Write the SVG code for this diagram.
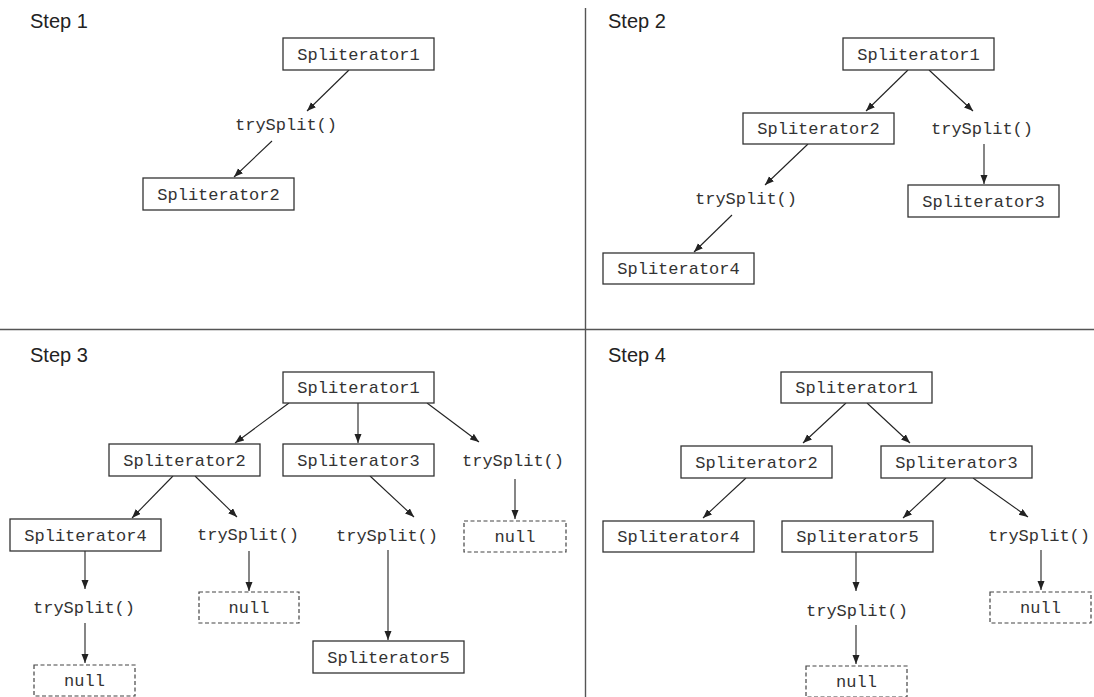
<svg xmlns="http://www.w3.org/2000/svg" width="1094" height="697" viewBox="0 0 1094 697">
<style>
.bg{fill:#fff}
.div{stroke:#555;stroke-width:1.4;fill:none}
.box{fill:#fff;stroke:#333;stroke-width:1.3}
.nul{fill:#fff;stroke:#444;stroke-width:1.2;stroke-dasharray:4 2.5}
.t{font-family:"Liberation Mono","Courier New",monospace;font-size:17px;fill:#333;text-anchor:middle}
.step{font-family:"Liberation Sans",Arial,sans-serif;font-size:20px;fill:#222}
.c line{stroke:#222;stroke-width:1.1;marker-end:url(#ah)}
</style>
<defs>
<marker id="ah" markerUnits="userSpaceOnUse" markerWidth="10" markerHeight="8" refX="9" refY="3.5" orient="auto">
<path d="M0,0 L9,3.5 L0,7 z" fill="#222"/>
</marker>
</defs>
<rect class="bg" x="0" y="0" width="1094" height="697"/>
<g id="dividers">
<line class="div" x1="585.5" y1="8" x2="585.5" y2="697"/>
<line class="div" x1="0" y1="329.5" x2="1094" y2="329.5"/>
</g>
<g id="labels">
<text class="step" x="30" y="28">Step 1</text>
<text class="step" x="608" y="28">Step 2</text>
<text class="step" x="30" y="362">Step 3</text>
<text class="step" x="608" y="362">Step 4</text>
</g>
<g id="connectors" class="c">
<line x1="349" y1="70" x2="307" y2="111"/>
<line x1="272" y1="141" x2="234" y2="177"/>
<line x1="908" y1="70" x2="866" y2="111"/>
<line x1="929" y1="70" x2="973" y2="111"/>
<line x1="984" y1="144" x2="984" y2="184"/>
<line x1="808" y1="144" x2="765" y2="185"/>
<line x1="732" y1="215" x2="694" y2="252"/>
<line x1="289" y1="403" x2="235" y2="443"/>
<line x1="358" y1="403" x2="358" y2="443"/>
<line x1="427" y1="403" x2="479" y2="442"/>
<line x1="515" y1="479" x2="515" y2="519"/>
<line x1="370" y1="476" x2="414" y2="517"/>
<line x1="388" y1="550" x2="388" y2="640"/>
<line x1="173" y1="476" x2="132" y2="518"/>
<line x1="195" y1="476" x2="237" y2="517"/>
<line x1="249" y1="551" x2="249" y2="591"/>
<line x1="85" y1="551" x2="85" y2="589"/>
<line x1="85" y1="623" x2="85" y2="663"/>
<line x1="846" y1="403" x2="803" y2="443"/>
<line x1="867" y1="403" x2="910" y2="443"/>
<line x1="746" y1="478" x2="703" y2="518"/>
<line x1="946" y1="478" x2="903" y2="518"/>
<line x1="973" y1="478" x2="1028" y2="517"/>
<line x1="1041" y1="550" x2="1041" y2="590"/>
<line x1="856" y1="552" x2="856" y2="591"/>
<line x1="856" y1="625" x2="856" y2="664"/>
</g>
<g id="step1">
<g id="s1-sp1"><rect class="box" x="283" y="38" width="151" height="32"/><text class="t" x="358.5" y="59.5">Spliterator1</text></g>
<g id="s1-try"><text class="t" x="286" y="130">trySplit()</text></g>
<g id="s1-sp2"><rect class="box" x="143" y="178" width="151" height="32"/><text class="t" x="218.5" y="199.5">Spliterator2</text></g>
</g>
<g id="step2">
<g id="s2-sp1"><rect class="box" x="843" y="38" width="151" height="32"/><text class="t" x="918.5" y="59.5">Spliterator1</text></g>
<g id="s2-sp2"><rect class="box" x="743" y="113" width="151" height="31"/><text class="t" x="818.5" y="134">Spliterator2</text></g>
<g id="s2-try1"><text class="t" x="982" y="134">trySplit()</text></g>
<g id="s2-sp3"><rect class="box" x="908" y="185" width="151" height="32"/><text class="t" x="983.5" y="206.5">Spliterator3</text></g>
<g id="s2-try2"><text class="t" x="746" y="204">trySplit()</text></g>
<g id="s2-sp4"><rect class="box" x="603" y="253" width="151" height="31"/><text class="t" x="678.5" y="274">Spliterator4</text></g>
</g>
<g id="step3">
<g id="s3-sp1"><rect class="box" x="283" y="372" width="151" height="31"/><text class="t" x="358.5" y="393">Spliterator1</text></g>
<g id="s3-sp2"><rect class="box" x="109" y="444" width="151" height="32"/><text class="t" x="184.5" y="465.5">Spliterator2</text></g>
<g id="s3-sp3"><rect class="box" x="283" y="444" width="151" height="32"/><text class="t" x="358.5" y="465.5">Spliterator3</text></g>
<g id="s3-try1"><text class="t" x="513" y="466">trySplit()</text></g>
<g id="s3-null1"><rect class="nul" x="464" y="521" width="102" height="31"/><text class="t" x="515" y="542">null</text></g>
<g id="s3-sp4"><rect class="box" x="10" y="519" width="151" height="32"/><text class="t" x="85.5" y="540.5">Spliterator4</text></g>
<g id="s3-try2"><text class="t" x="248" y="540">trySplit()</text></g>
<g id="s3-try3"><text class="t" x="387" y="541">trySplit()</text></g>
<g id="s3-null2"><rect class="nul" x="199" y="592" width="100" height="31"/><text class="t" x="249" y="613">null</text></g>
<g id="s3-try4"><text class="t" x="84" y="613">trySplit()</text></g>
<g id="s3-null3"><rect class="nul" x="34" y="665" width="101" height="31"/><text class="t" x="84.5" y="686">null</text></g>
<g id="s3-sp5"><rect class="box" x="313" y="641" width="151" height="32"/><text class="t" x="388.5" y="662.5">Spliterator5</text></g>
</g>
<g id="step4">
<g id="s4-sp1"><rect class="box" x="781" y="372" width="151" height="31"/><text class="t" x="856.5" y="393">Spliterator1</text></g>
<g id="s4-sp2"><rect class="box" x="681" y="446" width="151" height="32"/><text class="t" x="756.5" y="467.5">Spliterator2</text></g>
<g id="s4-sp3"><rect class="box" x="881" y="446" width="151" height="32"/><text class="t" x="956.5" y="467.5">Spliterator3</text></g>
<g id="s4-sp4"><rect class="box" x="603" y="521" width="151" height="31"/><text class="t" x="678.5" y="542">Spliterator4</text></g>
<g id="s4-sp5"><rect class="box" x="782" y="521" width="151" height="31"/><text class="t" x="857.5" y="542">Spliterator5</text></g>
<g id="s4-try1"><text class="t" x="1039" y="541">trySplit()</text></g>
<g id="s4-null1"><rect class="nul" x="990" y="592" width="101" height="31"/><text class="t" x="1040.5" y="613">null</text></g>
<g id="s4-try2"><text class="t" x="857" y="616">trySplit()</text></g>
<g id="s4-null2"><rect class="nul" x="806" y="666" width="101" height="31"/><text class="t" x="856.5" y="687">null</text></g>
</g>
</svg>
